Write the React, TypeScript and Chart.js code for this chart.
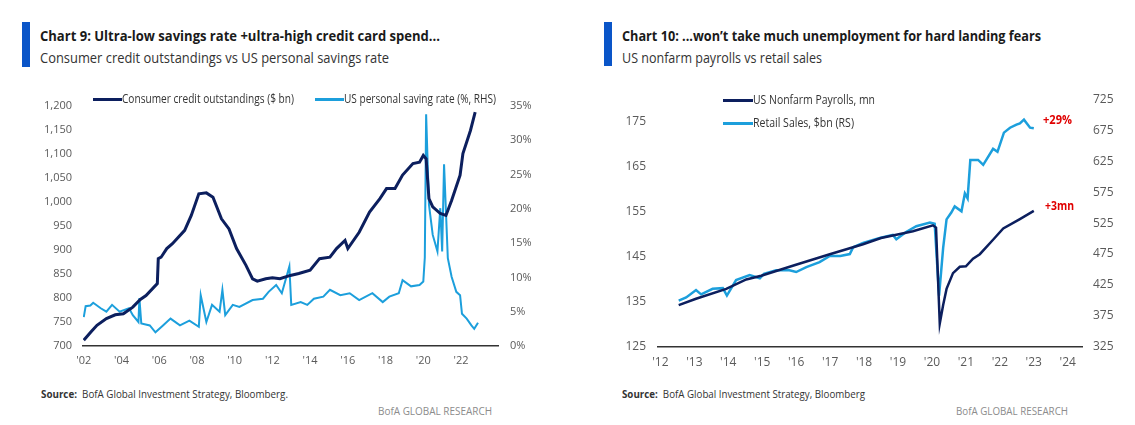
import React, { useEffect, useRef } from 'react';
import { Chart, registerables } from 'chart.js';

Chart.register(...registerables);

const NAVY = '#0c1f5e';
const LIGHT = '#1c9fdc';
const BAR_BLUE = '#0a55c8';
const TICK_COLOR = '#5a5a5a';
const FONT = '"Open Sans", "DejaVu Sans", sans-serif';

// ---------- Chart 9 data ----------
const ccYears = [2002.0, 2002.4, 2002.7, 2003.2, 2003.67, 2004.1, 2004.6, 2005.0, 2005.3, 2005.9, 2005.95, 2006.1, 2006.4, 2006.7, 2007.35, 2007.7, 2008.1, 2008.5, 2008.85, 2009.3, 2009.7, 2010.1, 2010.6, 2010.95, 2011.2, 2011.65, 2012.0, 2012.4, 2012.95, 2013.4, 2014.0, 2014.5, 2015.05, 2015.4, 2015.85, 2016.0, 2016.6, 2017.15, 2017.7, 2018.05, 2018.5, 2018.9, 2019.45, 2019.8, 2020.0, 2020.15, 2020.3, 2020.5, 2020.9, 2021.2, 2021.5, 2021.95, 2022.1, 2022.5, 2022.75];
const ccValues = [712, 730, 743, 757, 765, 767, 781, 797, 805, 830, 882, 885, 903, 913, 941, 972, 1017, 1019, 1010, 965, 944, 903, 868, 840, 835, 840, 842, 840, 847, 851, 858, 882, 885, 903, 920, 903, 937, 979, 1007, 1028, 1028, 1056, 1080, 1083, 1097, 1090, 1007, 990, 976, 972, 1003, 1056, 1101, 1149, 1187];

const srYears = [2002.0, 2002.1, 2002.35, 2002.5, 2002.9, 2003.2, 2003.5, 2003.9, 2004.4, 2004.6, 2004.9, 2004.95, 2005.05, 2005.5, 2005.8, 2006.2, 2006.6, 2007.1, 2007.6, 2008.1, 2008.2, 2008.5, 2008.8, 2009.2, 2009.35, 2009.5, 2009.9, 2010.25, 2010.95, 2011.5, 2011.8, 2012.2, 2012.5, 2012.9, 2013.0, 2013.5, 2013.85, 2014.2, 2014.7, 2015.05, 2015.6, 2016.1, 2016.6, 2017.3, 2017.85, 2018.2, 2018.7, 2018.9, 2019.35, 2019.8, 2020.0, 2020.08, 2020.15, 2020.3, 2020.5, 2020.75, 2020.9, 2021.0, 2021.1, 2021.3, 2021.5, 2021.75, 2021.95, 2022.05, 2022.3, 2022.55, 2022.7, 2022.9];
const srValues = [4.2, 5.8, 5.9, 6.3, 5.5, 5.0, 6.0, 5.0, 5.5, 4.5, 3.5, 7.0, 3.3, 3.0, 2.0, 3.0, 4.0, 3.0, 3.7, 2.8, 7.4, 3.5, 6.0, 5.0, 8.2, 4.5, 6.0, 5.7, 6.7, 6.9, 7.9, 8.9, 7.7, 11.6, 6.0, 6.4, 6.0, 6.9, 7.2, 8.2, 7.4, 7.7, 6.7, 7.7, 6.4, 7.2, 7.7, 9.6, 8.7, 8.9, 9.4, 12.9, 33.8, 20.6, 16.2, 13.8, 20.1, 13.8, 26.5, 12.8, 10.1, 7.9, 7.4, 4.7, 4.0, 3.0, 2.5, 3.4];

const c9LeftTicks = [700, 750, 800, 850, 900, 950, 1000, 1050, 1100, 1150, 1200];
const c9RightTicks = [0, 5, 10, 15, 20, 25, 30, 35];
const c9XTicks = [2002, 2004, 2006, 2008, 2010, 2012, 2014, 2016, 2018, 2020, 2022];

// ---------- Chart 10 data ----------
const nfpYears = [2012.54, 2013.05, 2013.94, 2014.53, 2014.97, 2015.97, 2016.99, 2017.97, 2018.5, 2019.44, 2020.03, 2020.12, 2020.23, 2020.33, 2020.43, 2020.62, 2020.82, 2021.0, 2021.21, 2021.41, 2021.8, 2022.1, 2022.59, 2023.0];
const nfpValues = [134.3, 135.7, 137.9, 140.0, 140.8, 143.2, 145.6, 147.8, 149.2, 150.7, 152.0, 151.5, 130.2, 134.3, 137.9, 141.4, 142.8, 142.9, 144.6, 145.6, 148.8, 151.3, 153.4, 155.2];

const rsYears = [2012.54, 2012.76, 2013.05, 2013.2, 2013.54, 2013.84, 2013.96, 2014.23, 2014.63, 2014.93, 2015.05, 2015.41, 2015.8, 2016.0, 2016.3, 2016.69, 2016.99, 2017.3, 2017.58, 2017.68, 2017.97, 2018.46, 2018.85, 2018.95, 2019.25, 2019.54, 2019.94, 2020.08, 2020.21, 2020.33, 2020.43, 2020.57, 2020.67, 2020.87, 2020.97, 2021.05, 2021.13, 2021.36, 2021.51, 2021.8, 2021.93, 2022.12, 2022.3, 2022.49, 2022.59, 2022.71, 2022.89, 2023.0];
const rsValues = [400, 405, 417, 410, 419, 420, 408, 433, 441, 436, 443, 449, 449, 446, 454, 462, 472, 472, 475, 486, 493, 501, 506, 499, 511, 520, 526, 524, 408, 485, 531, 542, 552, 544, 573, 565, 627, 627, 619, 645, 640, 671, 679, 684, 686, 692, 679, 678];

const c10LeftTicks = [125, 135, 145, 155, 165, 175];
const c10RightTicks = [325, 375, 425, 475, 525, 575, 625, 675, 725];
const c10XTicks = [2012, 2013, 2014, 2015, 2016, 2017, 2018, 2019, 2020, 2021, 2022, 2023, 2024];

const toPoints = (xs: number[], ys: number[]) => xs.map((x, i) => ({ x, y: ys[i] }));
const yearLabel = (v: number) => "'" + String(Math.round(v)).slice(2);

let measureCtx: CanvasRenderingContext2D | null = null;
function measure(text: string, font: string) {
  if (!measureCtx) measureCtx = document.createElement('canvas').getContext('2d');
  measureCtx!.font = font;
  return measureCtx!.measureText(text).width;
}

type Part = { text: string; weight?: number };
function FitText(props: { parts: Part[]; x: number; cy: number; w: number; size: number; color: string }) {
  const { parts, x, cy, w, size, color } = props;
  let total = 0;
  parts.forEach((p) => { total += measure(p.text, `${p.weight || 400} ${size}px ${FONT}`); });
  const k = total > 0 ? w / total : 1;
  return (
    <div style={{ position: 'absolute', left: x, top: cy - size / 2, height: size, lineHeight: `${size}px`, fontFamily: FONT, fontSize: size, color, whiteSpace: 'pre', transform: `scaleX(${k})`, transformOrigin: '0 50%' }}>
      {parts.map((p, i) => <span key={i} style={{ fontWeight: p.weight || 400 }}>{p.text}</span>)}
    </div>
  );
}

function Swatch(props: { x1: number; x2: number; y: number; color: string; h?: number }) {
  const h = props.h || 3;
  return <div style={{ position: 'absolute', left: props.x1, top: props.y - h / 2, width: props.x2 - props.x1, height: h, background: props.color }} />;
}

function ChartBox(props: { left: number; top: number; width: number; height: number; build: () => any }) {
  const ref = useRef<HTMLCanvasElement>(null);
  useEffect(() => {
    if (!ref.current) return;
    const chart = new Chart(ref.current, props.build());
    return () => chart.destroy();
  }, []);
  return (
    <div style={{ position: 'absolute', left: props.left, top: props.top, width: props.width, height: props.height }}>
      <canvas ref={ref} width={props.width} height={props.height} style={{ width: props.width, height: props.height }} />
    </div>
  );
}

const setTicks = (vals: number[]) => (s: any) => { s.ticks = vals.map((v) => ({ value: v })); };

function chart9Config() {
  const tickFont = { family: FONT, size: 11 };
  return {
    type: 'line',
    data: {
      datasets: [
        { label: 'Consumer credit outstandings ($ bn)', data: toPoints(ccYears, ccValues), borderColor: NAVY, borderWidth: 3, pointRadius: 0, tension: 0, yAxisID: 'y' },
        { label: 'US personal saving rate (%, RHS)', data: toPoints(srYears, srValues), borderColor: LIGHT, borderWidth: 2, pointRadius: 0, tension: 0, yAxisID: 'y1' },
      ],
    },
    options: {
      animation: false,
      responsive: false,
      maintainAspectRatio: false,
      layout: { autoPadding: false, padding: { top: 26, left: 0, right: 0, bottom: 0 } },
      plugins: { legend: { display: false }, tooltip: { enabled: false } },
      scales: {
        x: {
          type: 'linear', position: 'bottom', min: 2001.96, max: 2023.96,
          grid: { display: false, drawTicks: false },
          border: { display: true, color: '#333333', width: 1.5 },
          afterBuildTicks: setTicks(c9XTicks),
          afterFit: (s: any) => { s.height = 34; },
          ticks: { padding: 8, color: TICK_COLOR, font: tickFont, maxRotation: 0, autoSkip: false, callback: (v: any) => yearLabel(v) },
        },
        y: {
          type: 'linear', position: 'left', min: 700, max: 1200,
          grid: { display: false, drawTicks: false },
          border: { display: false },
          afterBuildTicks: setTicks(c9LeftTicks),
          afterFit: (s: any) => { s.width = 83; },
          ticks: { padding: 11, color: TICK_COLOR, font: tickFont, callback: (v: any) => Number(v).toLocaleString('en-US') },
        },
        y1: {
          type: 'linear', position: 'right', min: 0, max: 35,
          grid: { display: false, drawTicks: false },
          border: { display: false },
          afterBuildTicks: setTicks(c9RightTicks),
          afterFit: (s: any) => { s.width = 62; },
          ticks: { padding: 12, color: TICK_COLOR, font: tickFont, callback: (v: any) => v + '%' },
        },
      },
    },
  };
}

function chart10Config() {
  const tickFont = { family: FONT, size: 12 };
  return {
    type: 'line',
    data: {
      datasets: [
        { label: 'US Nonfarm Payrolls, mn', data: toPoints(nfpYears, nfpValues), borderColor: NAVY, borderWidth: 2.5, pointRadius: 0, tension: 0, yAxisID: 'y' },
        { label: 'Retail Sales, $bn (RS)', data: toPoints(rsYears, rsValues), borderColor: LIGHT, borderWidth: 2.5, pointRadius: 0, tension: 0, yAxisID: 'y1' },
      ],
    },
    options: {
      animation: false,
      responsive: false,
      maintainAspectRatio: false,
      layout: { autoPadding: false, padding: { top: 8, left: 0, right: 0, bottom: 0 } },
      plugins: { legend: { display: false }, tooltip: { enabled: false } },
      scales: {
        x: {
          type: 'linear', position: 'bottom', min: 2011.93, max: 2024.42,
          grid: { display: false, drawTicks: false },
          border: { display: true, color: '#333333', width: 1.5 },
          afterBuildTicks: setTicks(c10XTicks),
          afterFit: (s: any) => { s.height = 33; },
          ticks: { padding: 8, color: TICK_COLOR, font: tickFont, maxRotation: 0, autoSkip: false, callback: (v: any) => yearLabel(v) },
        },
        y: {
          type: 'linear', position: 'left', min: 125, max: 180,
          grid: { display: false, drawTicks: false },
          border: { display: false },
          afterBuildTicks: setTicks(c10LeftTicks),
          afterFit: (s: any) => { s.width = 88; },
          ticks: { padding: 12, color: TICK_COLOR, font: tickFont, callback: (v: any) => String(v) },
        },
        y1: {
          type: 'linear', position: 'right', min: 325, max: 725,
          grid: { display: false, drawTicks: false },
          border: { display: false },
          afterBuildTicks: setTicks(c10RightTicks),
          afterFit: (s: any) => { s.width = 53; },
          ticks: { padding: 11, color: TICK_COLOR, font: tickFont, callback: (v: any) => String(v) },
        },
      },
    },
  };
}

export default function App() {
  const dark = '#1a1a1a';
  const mid = '#333333';
  const grey = '#8c8c8c';
  return (
    <div style={{ position: 'absolute', left: 0, top: 0, width: 1135, height: 425, background: '#ffffff', overflow: 'hidden' }}>
      {/* Chart 9 header */}
      <div style={{ position: 'absolute', left: 22, top: 22, width: 8, height: 45, background: BAR_BLUE }} />
      <FitText parts={[{ text: 'Chart 9: Ultra-low savings rate +ultra-high credit card spend...', weight: 700 }]} x={39.5} cy={35.5} w={400} size={15} color={dark} />
      <FitText parts={[{ text: 'Consumer credit outstandings vs US personal savings rate' }]} x={39.5} cy={57} w={349} size={15} color={mid} />

      {/* Chart 10 header */}
      <div style={{ position: 'absolute', left: 604, top: 22, width: 8, height: 44, background: BAR_BLUE }} />
      <FitText parts={[{ text: 'Chart 10: ...won\u2019t take much unemployment for hard landing fears', weight: 700 }]} x={621.5} cy={35.5} w={419} size={15} color={dark} />
      <FitText parts={[{ text: 'US nonfarm payrolls vs retail sales' }]} x={621.5} cy={57} w={200} size={15} color={mid} />

      <ChartBox left={0} top={80} width={560} height={300} build={chart9Config} />
      <ChartBox left={570} top={80} width={565} height={300} build={chart10Config} />

      {/* Chart 9 legend */}
      <Swatch x1={93} x2={122} y={99} color={NAVY} />
      <FitText parts={[{ text: 'Consumer credit outstandings ($ bn)' }]} x={122} cy={99} w={172} size={12} color={mid} />
      <Swatch x1={315} x2={344} y={99} color={LIGHT} />
      <FitText parts={[{ text: 'US personal saving rate (%, RHS)' }]} x={344} cy={99} w={152} size={12} color={mid} />

      {/* Chart 10 legend */}
      <Swatch x1={723} x2={753} y={100} color={NAVY} />
      <FitText parts={[{ text: 'US Nonfarm Payrolls, mn' }]} x={753} cy={100} w={122} size={12} color={mid} />
      <Swatch x1={723} x2={753} y={123} color={LIGHT} />
      <FitText parts={[{ text: 'Retail Sales, $bn (RS)' }]} x={753} cy={123} w={101} size={12} color={mid} />

      {/* Chart 10 annotations */}
      <FitText parts={[{ text: '+29%', weight: 700 }]} x={1043} cy={119.5} w={29} size={12} color={'#e00000'} />
      <FitText parts={[{ text: '+3mn', weight: 700 }]} x={1045} cy={206} w={29} size={12} color={'#e00000'} />

      {/* Sources */}
      <FitText parts={[{ text: 'Source:', weight: 700 }, { text: '  BofA Global Investment Strategy, Bloomberg.' }]} x={40.7} cy={393.5} w={247} size={11} color={mid} />
      <FitText parts={[{ text: 'BofA GLOBAL RESEARCH' }]} x={378} cy={411} w={114} size={11.5} color={grey} />
      <FitText parts={[{ text: 'Source:', weight: 700 }, { text: '  BofA Global Investment Strategy, Bloomberg' }]} x={621.7} cy={393.5} w={243} size={11} color={mid} />
      <FitText parts={[{ text: 'BofA GLOBAL RESEARCH' }]} x={956} cy={411} w={112} size={11.5} color={grey} />
    </div>
  );
}
